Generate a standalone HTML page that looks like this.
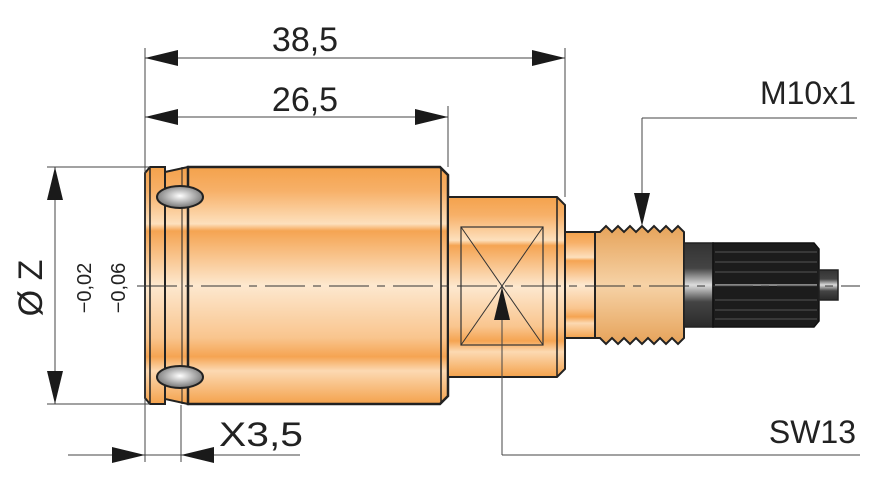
<!DOCTYPE html>
<html><head><meta charset="utf-8"><style>
html,body{margin:0;padding:0;background:#fff}
svg{display:block}
text{font-family:"Liberation Sans",sans-serif;fill:#222}
</style></head><body>
<svg width="884" height="483" viewBox="0 0 884 483" xmlns="http://www.w3.org/2000/svg">
<defs>
<linearGradient id="og" x1="0" y1="0" x2="0" y2="1">
<stop offset="0" stop-color="#f4a24c"/>
<stop offset="0.1" stop-color="#f7b068"/>
<stop offset="0.24" stop-color="#fde0bd"/>
<stop offset="0.27" stop-color="#f5a452"/>
<stop offset="0.5" stop-color="#fde8cf"/>
<stop offset="0.72" stop-color="#f9c58e"/>
<stop offset="0.8" stop-color="#f5a452"/>
<stop offset="0.86" stop-color="#fcd9b2"/>
<stop offset="1" stop-color="#f4a24c"/>
</linearGradient>
<linearGradient id="tg" x1="0" y1="0" x2="0" y2="1">
<stop offset="0" stop-color="#e6a35a"/>
<stop offset="0.5" stop-color="#f6d2a6"/>
<stop offset="1" stop-color="#e6a35a"/>
</linearGradient>
<linearGradient id="dg" x1="0" y1="0" x2="0" y2="1">
<stop offset="0" stop-color="#333"/>
<stop offset="0.3" stop-color="#444"/>
<stop offset="0.5" stop-color="#ddd"/>
<stop offset="0.7" stop-color="#444"/>
<stop offset="1" stop-color="#2a2a2a"/>
</linearGradient>
<radialGradient id="bg" cx="0.5" cy="0.45" r="0.6">
<stop offset="0" stop-color="#fff"/>
<stop offset="1" stop-color="#666"/>
</radialGradient>
</defs>

<path d="M150,167 L165,167 L165,404 L150,404 L145,398 L145,173 Z" fill="url(#og)" stroke="#222" stroke-width="2"/>
<path d="M165,172 L188,167 L188,404 L165,399 Z" fill="url(#og)" stroke="#222" stroke-width="2"/>
<path d="M188,167 L440,167 L448,175 L448,396 L440,404 L188,404 Z" fill="url(#og)" stroke="#222" stroke-width="2.5"/>
<line x1="441" y1="167" x2="441" y2="404" stroke="#222" stroke-width="1.5"/>
<line x1="150" y1="167" x2="150" y2="404" stroke="#222" stroke-width="1.5"/>
<line x1="182" y1="167" x2="182" y2="404" stroke="#222" stroke-width="1"/>
<ellipse cx="180" cy="197" rx="23" ry="11" fill="url(#bg)" stroke="#222" stroke-width="2"/>
<ellipse cx="180" cy="377" rx="23" ry="11" fill="url(#bg)" stroke="#222" stroke-width="2"/>

<path d="M448,197 L557,197 L565,205 L565,369 L557,377 L448,377 Z" fill="url(#og)" stroke="#222" stroke-width="2"/>
<line x1="557" y1="197" x2="557" y2="377" stroke="#222" stroke-width="1.5"/>
<rect x="461" y="227" width="82" height="118" fill="none" stroke="#333" stroke-width="1.2"/>
<line x1="461" y1="227" x2="543" y2="345" stroke="#333" stroke-width="1"/>
<line x1="543" y1="227" x2="461" y2="345" stroke="#333" stroke-width="1"/>

<rect x="565" y="232" width="30" height="106" fill="url(#og)" stroke="#222" stroke-width="2"/>
<path d="M595,232 L600,232 L606,226 L612,232 L618,226 L624,232 L630,226 L636,232 L642,226 L648,232 L654,226 L660,232 L666,226 L672,232 L678,226 L684,232 L684,338 L678,344 L672,338 L666,344 L660,338 L654,344 L648,338 L642,344 L636,338 L630,344 L624,338 L618,344 L612,338 L606,344 L600,338 L595,338 Z" fill="url(#tg)" stroke="#222" stroke-width="2"/>
<rect x="684" y="243" width="29" height="84" fill="url(#dg)" stroke="#222" stroke-width="1.5"/>
<path d="M713,243 L814,243 L819,249 L819,321 L814,327 L713,327 Z" fill="#1c1c1c" stroke="#111" stroke-width="1.5"/>
<g stroke="#555" stroke-width="1">
<line x1="715" y1="252" x2="817" y2="252"/><line x1="715" y1="262" x2="817" y2="262"/>
<line x1="715" y1="272" x2="817" y2="272"/><line x1="715" y1="300" x2="817" y2="300"/>
<line x1="715" y1="310" x2="817" y2="310"/><line x1="715" y1="319" x2="817" y2="319"/>
</g>
<line x1="715" y1="285" x2="817" y2="285" stroke="#aaa" stroke-width="1.5"/>
<rect x="819" y="270" width="19" height="30" fill="url(#dg)" stroke="#222" stroke-width="1.5"/>

<line x1="137" y1="286" x2="860" y2="286" stroke="#333" stroke-width="1" stroke-dasharray="40,8,8,8"/>

<g stroke="#444" stroke-width="1">
<line x1="145" y1="48" x2="145" y2="462"/>
<line x1="565" y1="48" x2="565" y2="197"/>
<line x1="448" y1="106" x2="448" y2="167"/>
<line x1="145" y1="58" x2="565" y2="58"/>
<line x1="145" y1="117" x2="448" y2="117"/>
<line x1="47" y1="167" x2="150" y2="167"/>
<line x1="47" y1="404" x2="150" y2="404"/>
<line x1="55" y1="167" x2="55" y2="404"/>
<line x1="181" y1="405" x2="181" y2="462"/>
<line x1="68" y1="455" x2="300" y2="455"/>
<line x1="642" y1="118" x2="857" y2="118"/>
<line x1="642" y1="118" x2="642" y2="200"/>
<line x1="502" y1="287" x2="502" y2="455"/>
<line x1="502" y1="455" x2="860" y2="455"/>
</g>
<g fill="#1a1a1a">
<path d="M145,58 L178,50 L178,66 Z"/><path d="M565,58 L532,50 L532,66 Z"/>
<path d="M145,117 L178,109 L178,125 Z"/><path d="M448,117 L415,109 L415,125 Z"/>
<path d="M55,167 L47,200 L63,200 Z"/><path d="M55,404 L47,371 L63,371 Z"/>
<path d="M145,455 L112,447 L112,463 Z"/><path d="M181,455 L214,447 L214,463 Z"/>
<path d="M642,226 L634,193 L650,193 Z"/>
<path d="M502,287 L494,320 L510,320 Z"/>
</g>

<text x="305" y="51" font-size="34" text-anchor="middle">38,5</text>
<text x="305" y="111" font-size="34" text-anchor="middle">26,5</text>
<text x="856" y="104" font-size="32" text-anchor="end">M10x1</text>
<text x="856" y="443" font-size="32" text-anchor="end">SW13</text>
<text x="219" y="446" font-size="34" textLength="84" lengthAdjust="spacingAndGlyphs">X3,5</text>
<text transform="translate(42,288) rotate(-90)" font-size="34" text-anchor="middle">Ø Z</text>
<text transform="translate(91,288) rotate(-90)" font-size="20" text-anchor="middle">−0,02</text>
<text transform="translate(125,288) rotate(-90)" font-size="20" text-anchor="middle">−0,06</text>
</svg>
</body></html>
